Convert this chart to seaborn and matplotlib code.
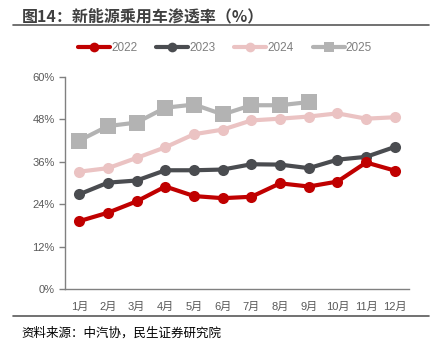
import matplotlib
matplotlib.use("Agg")
import matplotlib.pyplot as plt
import seaborn as sns
from matplotlib.lines import Line2D
from matplotlib.ticker import FixedLocator, FuncFormatter

# Data: monthly NEV passenger-car penetration (%)
months = ["1月", "2月", "3月", "4月", "5月", "6月", "7月", "8月", "9月", "10月", "11月", "12月"]
y2022 = [19.2, 21.6, 24.8, 29.0, 26.3, 25.7, 26.1, 29.9, 29.0, 30.4, 35.8, 33.5]
y2023 = [26.8, 30.1, 30.7, 33.6, 33.6, 33.8, 35.3, 35.2, 34.2, 36.6, 37.4, 40.2]
y2024 = [33.2, 34.2, 37.1, 40.1, 43.8, 45.1, 47.7, 48.2, 48.8, 49.7, 48.2, 48.6]
y2025 = [42.0, 46.1, 47.1, 51.3, 52.2, 49.4, 52.0, 52.0, 52.9]

sns.set_theme(style="white")
plt.rcParams["font.family"] = ["Liberation Sans", "Noto Sans CJK SC", "DejaVu Sans"]

fig = plt.figure(figsize=(4.33, 3.54), dpi=100)
ax = fig.add_axes([0.150, 0.1836, 0.795, 0.599])

series = [
    ("2022", y2022, "#C00000", "o", 8),
    ("2023", y2023, "#4A4C50", "o", 8),
    ("2024", y2024, "#EBC3C3", "o", 8),
    ("2025", y2025, "#B3B3B3", "s", 11),
]
# draw later years first so 2022 sits on top
for name, vals, col, mk, ms in reversed(series):
    sns.lineplot(x=list(range(len(vals))), y=vals, ax=ax, color=col, marker=mk,
                 markersize=ms, markeredgewidth=0, linewidth=3, zorder=3)

ax.set_xlim(-0.5, 11.5)
ax.set_ylim(0, 60)
ax.set_yticks([0, 12, 24, 36, 48, 60])
ax.yaxis.set_major_formatter(FuncFormatter(lambda v, p: f"{int(v)}%"))
ax.set_xticks(range(12))
ax.set_xticklabels(months)
ax.xaxis.set_minor_locator(FixedLocator([i - 0.5 for i in range(13)]))
ax.tick_params(axis="x", which="major", length=0, pad=9, labelsize=8, labelcolor="#595959")
ax.tick_params(axis="x", which="minor", length=3, width=1, color="#808080", direction="out")
ax.tick_params(axis="y", length=4, width=1, color="#808080", direction="out",
               labelsize=8, labelcolor="#595959", left=True)
for s in ["top", "right"]:
    ax.spines[s].set_visible(False)
for s in ["left", "bottom"]:
    ax.spines[s].set_color("#808080")
    ax.spines[s].set_linewidth(1)
ax.set_xlabel("")
ax.set_ylabel("")

handles = [Line2D([0], [0], color=c, marker=m, markersize=7, markeredgewidth=0, linewidth=3)
           for _, _, c, m, ms in series]
fig.legend(handles, [s[0] for s in series], loc="center", bbox_to_anchor=(0.52, 0.865),
           ncol=4, frameon=False, fontsize=8.5, labelcolor="#7F7F7F",
           handlelength=2.7, handletextpad=0.1, columnspacing=1.6)

fig.text(0.05, 0.955, "图14：新能源乘用车渗透率（%）", fontsize=11.5, fontweight="bold",
         color="#404040", va="center", family=["Noto Sans CJK SC", "DejaVu Sans"])
fig.add_artist(Line2D([0.03, 0.99], [0.930, 0.930], color="#595959", linewidth=1.2))
fig.add_artist(Line2D([0.03, 0.99], [0.107, 0.107], color="#595959", linewidth=1.2))
fig.text(0.05, 0.058, "资料来源：中汽协，民生证券研究院", fontsize=9, color="#000000", va="center",
         family=["Noto Sans CJK SC", "DejaVu Sans"])

fig.savefig("out.png", dpi=100)
